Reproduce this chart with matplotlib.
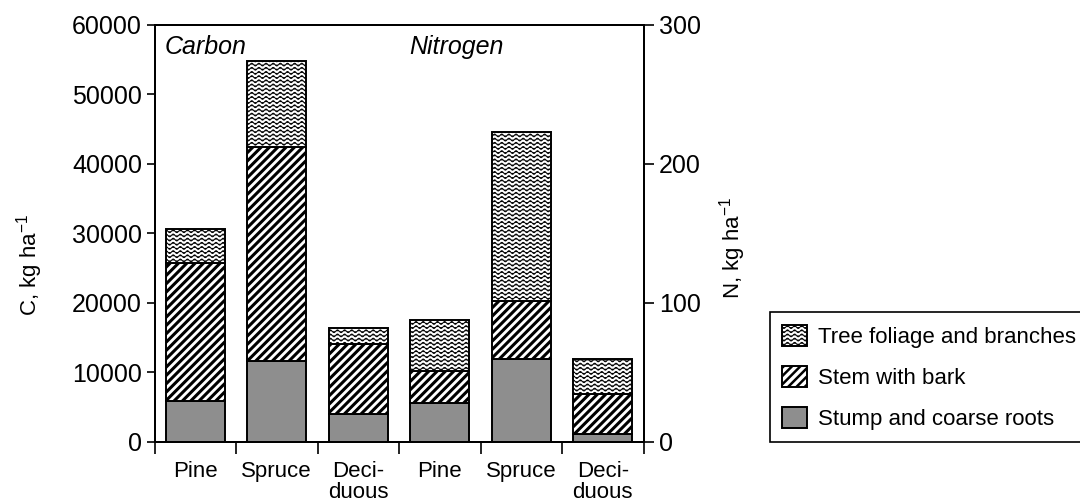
import warnings
warnings.filterwarnings("ignore")
import numpy as np
import matplotlib
matplotlib.use("Agg")
import matplotlib.pyplot as plt
import matplotlib.hatch as mhatch
from matplotlib.path import Path

# ---------------- data ----------------
categories = ["Pine", "Spruce", "Deci-\nduous", "Pine", "Spruce", "Deci-\nduous"]
components = ["Stump and coarse roots", "Stem with bark", "Tree foliage and branches"]

carbon_stump = [5860, 11620, 3990]
carbon_stem = [19830, 30860, 10080]
carbon_foliage = [4890, 12380, 2300]

nitrogen_stump = [27.6, 59.3, 5.3]
nitrogen_stem = [23.5, 42.2, 28.8]
nitrogen_foliage = [36.5, 121.7, 25.2]

c_ticks = [0, 10000, 20000, 30000, 40000, 50000, 60000]
n_ticks = [0, 100, 200, 300]

# ---------------- custom wavy hatch ----------------
WAVE_AMP = 0.014
WAVE_K = 14


class WavyHatch(mhatch.HatchPatternBase):
    def __init__(self, hatch, density):
        self.num_lines = int(hatch.count('~') * density)
        self.npts = 141
        self.num_vertices = self.num_lines * self.npts

    def set_vertices_and_codes(self, vertices, codes):
        if self.num_lines == 0:
            return
        x = np.linspace(0, 1, self.npts)
        for i in range(self.num_lines):
            y0 = (i + 0.5) / self.num_lines
            y = y0 + WAVE_AMP * np.sin(2 * np.pi * WAVE_K * x)
            s = slice(i * self.npts, (i + 1) * self.npts)
            vertices[s, 0] = x
            vertices[s, 1] = y
            codes[s] = Path.LINETO
            codes[i * self.npts] = Path.MOVETO


if WavyHatch not in mhatch._hatch_types:
    mhatch._hatch_types.append(WavyHatch)

plt.rcParams['font.family'] = ['Liberation Sans', 'DejaVu Sans']
plt.rcParams['hatch.linewidth'] = 1.6
plt.rcParams['mathtext.fontset'] = 'custom'
plt.rcParams['mathtext.rm'] = 'Liberation Sans'
plt.rcParams['mathtext.it'] = 'Liberation Sans:italic'

FS = 16
FS_TICK = 18

fig = plt.figure(figsize=(10.8, 5.04), dpi=100)
ax = fig.add_axes([154.5 / 1080, 1 - 441.7 / 504, (643.5 - 154.5) / 1080, (441.7 - 25) / 504])
ax2 = ax.twinx()

styles = {
    "stump": dict(facecolor="#8e8e8e", hatch=None, hlw=0.6),
    "stem": dict(facecolor="white", hatch="////", hlw=2.2),
    "foliage": dict(facecolor="white", hatch="~~~~", hlw=0.7),
}

W = 0.72
xc = np.arange(3)
xn = np.arange(3) + 3


def stack(a, x, stump, stem, fol):
    stump = np.array(stump, float)
    stem = np.array(stem, float)
    fol = np.array(fol, float)
    out = []
    for vals, bottom, key in [(stump, 0, "stump"), (stem, stump, "stem"), (fol, stump + stem, "foliage")]:
        st = styles[key]
        bars = a.bar(x, vals, W, bottom=bottom, facecolor=st["facecolor"],
                     edgecolor="black", linewidth=1.4, hatch=st["hatch"])
        for p in bars:
            if hasattr(p, "set_hatch_linewidth"):
                p.set_hatch_linewidth(st["hlw"])
        out.append(bars)
    return out


hc = stack(ax, xc, carbon_stump, carbon_stem, carbon_foliage)
hn = stack(ax2, xn, nitrogen_stump, nitrogen_stem, nitrogen_foliage)

ax.set_xlim(-0.5, 5.5)
ax.set_ylim(0, 60000)
ax2.set_ylim(0, 300)
ax.set_yticks(c_ticks)
ax.set_yticklabels([str(t) for t in c_ticks])
ax2.set_yticks(n_ticks)
ax2.set_yticklabels([str(t) for t in n_ticks])

ax.tick_params(axis='y', direction='out', length=6, width=1.2, labelsize=FS_TICK, pad=3)
ax2.tick_params(axis='y', direction='out', length=7, width=1.2, labelsize=FS_TICK, pad=4)

# x: boundaries as major ticks, labels at minor ticks
ax.set_xticks(np.arange(-0.5, 6.0, 1.0))
ax.set_xticklabels([])
ax.set_xticks(np.arange(6), minor=True)
ax.set_xticklabels(categories, minor=True)
ax.tick_params(axis='x', which='major', direction='out', length=8.5, width=1.2)
ax.tick_params(axis='x', which='minor', length=0, labelsize=FS, pad=14)
for t in ax.get_xticklabels(minor=True):
    t.set_linespacing(1.0)

for a in (ax, ax2):
    for s in a.spines.values():
        s.set_linewidth(1.4)

ax.text(-0.37, 0.975, "Carbon", transform=ax.get_xaxis_transform(), fontsize=18,
        style='italic', ha='left', va='top')
ax.text(2.63, 0.975, "Nitrogen", transform=ax.get_xaxis_transform(), fontsize=18,
        style='italic', ha='left', va='top')

fig.text(30 / 1080, 1 - 265 / 504, r"C, kg ha$^{-1}$", rotation=90, ha='center', va='center', fontsize=FS)
fig.text(733 / 1080, 1 - 248 / 504, r"N, kg ha$^{-1}$", rotation=90, ha='center', va='center', fontsize=FS)

leg = fig.legend([hc[2][0], hc[1][0], hc[0][0]],
                 [components[2], components[1], components[0]],
                 loc='lower left', bbox_to_anchor=(770 / 1080, 1 - 442 / 504),
                 bbox_transform=fig.transFigure, borderaxespad=0, fontsize=FS,
                 fancybox=False, frameon=True, edgecolor='black', framealpha=1,
                 handlelength=1.1, handleheight=1.1, handletextpad=0.5,
                 labelspacing=0.8, borderpad=0.55)
leg.get_frame().set_linewidth(1.2)
handles = getattr(leg, "legend_handles", None) or getattr(leg, "legendHandles", [])
for h, key in zip(handles, ["foliage", "stem", "stump"]):
    if hasattr(h, "set_hatch_linewidth"):
        h.set_hatch_linewidth(styles[key]["hlw"] if key != "stem" else 1.8)

fig.savefig("out.png", dpi=100)
